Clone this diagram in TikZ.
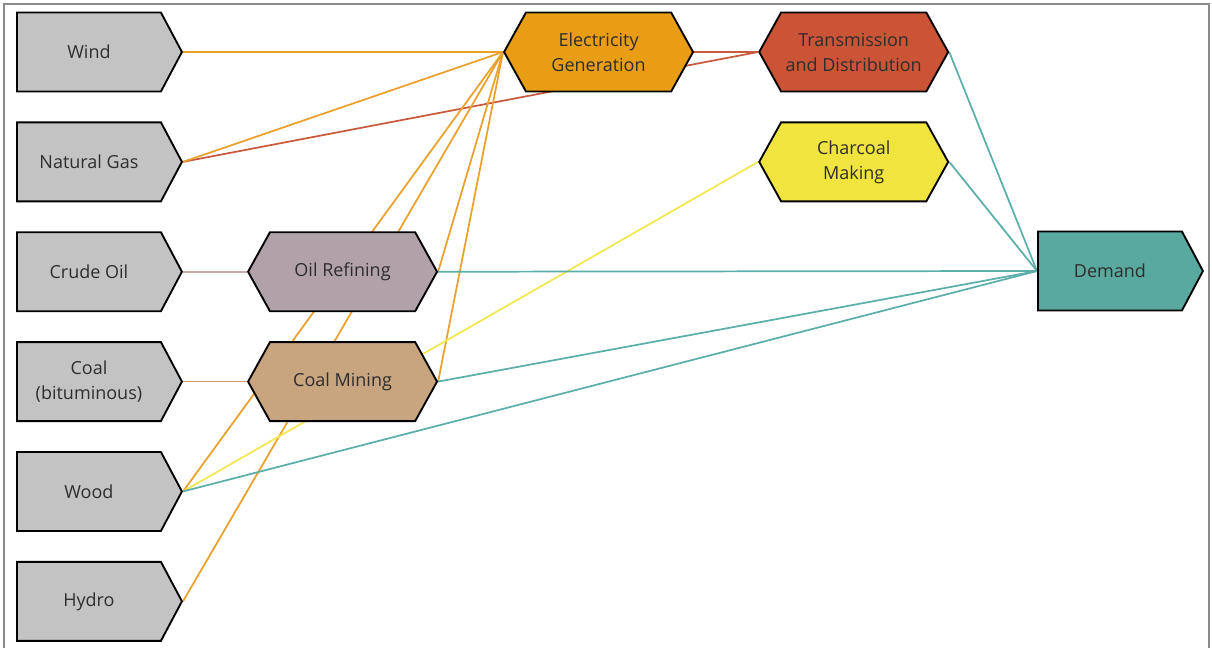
\documentclass[tikz,border=0pt]{standalone}
\usepackage{fontspec}
\setmainfont{Open Sans}
\usepackage{xcolor}
\usetikzlibrary{positioning, shapes.symbols, backgrounds}
\definecolor{srcfill}{HTML}{C3C3C3}
\definecolor{elecfill}{HTML}{E99D15}
\definecolor{tndfill}{HTML}{CB5436}
\definecolor{charfill}{HTML}{F2E43E}
\definecolor{oilfill}{HTML}{B1A2AA}
\definecolor{minefill}{HTML}{C8A47F}
\definecolor{demfill}{HTML}{5AA9A1}
\definecolor{labeltext}{HTML}{2E2E2E}
\definecolor{framegray}{HTML}{8A8A8A}
\definecolor{elecline}{HTML}{EBA02C}
\definecolor{tndline}{HTML}{C95A3E}
\definecolor{charline}{HTML}{F4E64E}
\definecolor{demline}{HTML}{5BAEA9}
\definecolor{oilline}{HTML}{C9AAAA}
\definecolor{mineline}{HTML}{D09873}

\begin{document}
\begin{tikzpicture}[
    x=0.75pt, y=-0.75pt,
    src/.style={signal, signal to=east, signal pointer angle=124,
      draw=black, line width=1.4pt, fill=srcfill, inner sep=0pt,
      minimum width=123.75pt, minimum height=59.25pt,
      font=\fontsize{13.5}{18.75}\selectfont, text=labeltext, align=center},
    hex/.style={signal, signal to=east and west, signal pointer angle=122,
      draw=black, line width=1.4pt, inner sep=0pt,
      minimum width=141.75pt, minimum height=59.25pt,
      font=\fontsize{13.5}{18.75}\selectfont, text=labeltext, align=center},
    flow/.style={line width=1.3pt}]
\useasboundingbox (0,0) rectangle (1212,648);
\draw[framegray, line width=1.5pt] (4,660) -- (4,4) -- (1209,4) -- (1209,660);

% --- Primary sources ---
\node[src, anchor=west] (wind) at (16,52) {Wind};
\node[src, below=21.75pt of wind] (gas) {Natural Gas};
\node[src, below=21.75pt of gas] (crude) {Crude Oil};
\node[src, below=21.75pt of crude] (coal) {Coal\\(bituminous)};
\node[src, below=21.75pt of coal] (wood) {Wood};
\node[src, below=21.75pt of wood] (hydro) {Hydro};

% --- Conversion steps ---
\node[hex, fill=oilfill, right=48pt of crude] (oil) {Oil Refining};
\node[hex, fill=minefill, right=48pt of coal] (mine) {Coal Mining};
\node[hex, fill=elecfill, right=240pt of wind] (elec) {Electricity\\Generation};
\node[hex, fill=tndfill, right=48pt of elec] (tnd) {Transmission\\and Distribution};
\node[hex, fill=charfill, below=21.75pt of tnd] (char) {Charcoal\\Making};

% --- End use ---
\node[src, fill=demfill, anchor=west] (dem) at (1037,271) {Demand};

% --- Flows (behind the boxes) ---
\begin{pgfonlayer}{background}
\draw[flow, oilline] (crude.east) -- (oil.west);
\draw[flow, mineline] (coal.east) -- (mine.west);
\draw[flow, tndline] (gas.east) -- (tnd.west);
\draw[flow, tndline] (elec.east) -- (tnd.west);
\foreach \s in {wind,gas,oil,mine,wood,hydro}
  \draw[flow, elecline] (\s.east) -- (elec.west);
\draw[flow, charline] (wood.east) -- (char.west);
\foreach \s in {tnd,char,oil,mine,wood}
  \draw[flow, demline] (\s.east) -- (dem.west);
\end{pgfonlayer}
\end{tikzpicture}
\end{document}
